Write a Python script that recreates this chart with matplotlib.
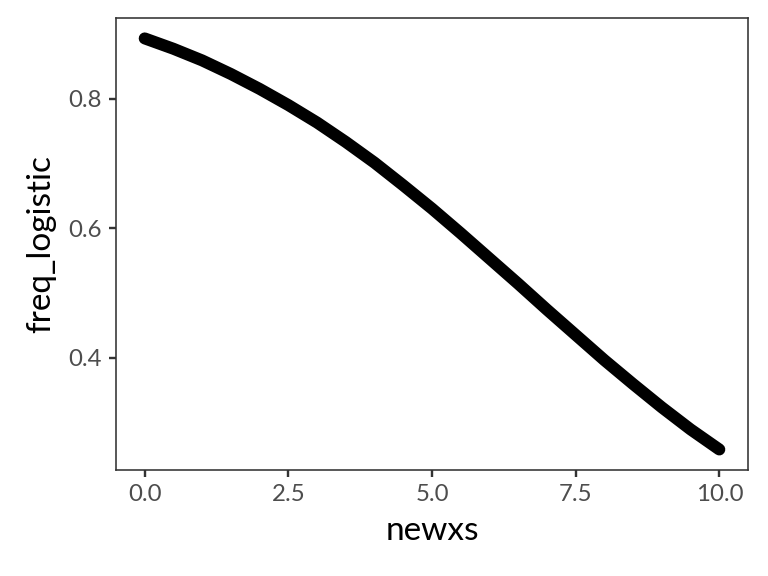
import matplotlib
matplotlib.use("Agg")
import matplotlib.pyplot as plt

# values
newxs = [0.0, 0.5, 1.0, 1.5, 2.0, 2.5, 3.0, 3.5, 4.0, 4.5, 5.0,
         5.5, 6.0, 6.5, 7.0, 7.5, 8.0, 8.5, 9.0, 9.5, 10.0]
freq_logistic = [0.893, 0.877, 0.859, 0.838, 0.815, 0.790, 0.763, 0.733,
                 0.701, 0.666, 0.630, 0.592, 0.553, 0.514, 0.474, 0.435,
                 0.396, 0.359, 0.323, 0.289, 0.258]
xticks = [0.0, 2.5, 5.0, 7.5, 10.0]
yticks = [0.4, 0.6, 0.8]

plt.rcParams['font.family'] = ['Lato', 'DejaVu Sans']

fig = plt.figure(figsize=(8, 6), dpi=96)
ax = fig.add_axes([0.151, 0.184, 0.823, 0.785])

ax.plot(newxs, freq_logistic, color="black", linewidth=9,
        solid_capstyle="round", solid_joinstyle="round")

# ggplot-style 5% expansion
xr = max(newxs) - min(newxs)
yr = max(freq_logistic) - min(freq_logistic)
ax.set_xlim(min(newxs) - 0.05 * xr, max(newxs) + 0.05 * xr)
ax.set_ylim(min(freq_logistic) - 0.05 * yr, max(freq_logistic) + 0.05 * yr)

ax.set_xticks(xticks)
ax.set_xticklabels([f"{v:.1f}" for v in xticks])
ax.set_yticks(yticks)
ax.set_yticklabels([f"{v:.1f}" for v in yticks])

for s in ax.spines.values():
    s.set_color("#333333")
    s.set_linewidth(1.2)
ax.tick_params(colors="#333333", labelcolor="#4D4D4D", labelsize=18,
               length=5.5, width=1.8, pad=5)

ax.set_xlabel("newxs", fontsize=25, labelpad=8)
ax.set_ylabel("freq_logistic", fontsize=25, labelpad=9)

fig.savefig("out.png", dpi=96)
